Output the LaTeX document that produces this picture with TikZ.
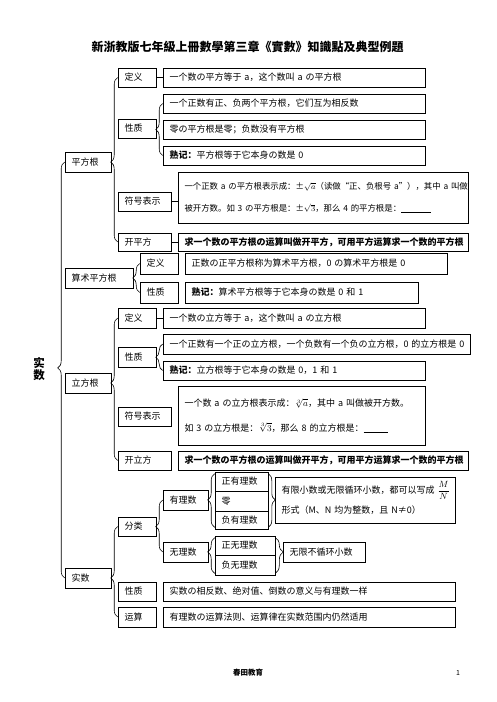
\documentclass[tikz,border=0pt]{standalone}
\usepackage{fontspec}
\setmainfont{Noto Sans CJK SC}
\usetikzlibrary{decorations.pathreplacing,calc}
\tikzset{
  bx/.style={draw, line width=0.6pt, inner xsep=6.5pt, inner ysep=0pt, align=left},
  ln/.style={line width=0.6pt},
  brc/.style 2 args={line width=0.6pt, decorate, decoration={brace, amplitude=#1, aspect=#2}}
}
\newcommand\bx[7]{\node[bx,#6,minimum width={#4-#2},minimum height={#5-#3},text width={#4-#2-13}] (#1) at ({(#2+#4)/2},{(#3+#5)/2}) {#7};}
\begin{document}
\fontsize{9}{11}\selectfont
\begin{tikzpicture}[x=1pt,y=-1pt]
\fill[white] (0,0) rectangle (496,702);
\useasboundingbox (0,0) rectangle (496,702);

\node[font=\bfseries\fontsize{12}{12}\selectfont] (title) at (247.5,47) {新浙教版七年級上冊數學第三章《實數》知識點及典型例題};
\node[font=\bfseries\fontsize{11.5}{12.5}\selectfont, align=center] (label) at (39,369) {实\\数};

% ---- 平方根
\bx{pf}{65}{152}{111}{172}{}{平方根}
\bx{pfdy}{118}{68}{156}{87}{}{定义}
\bx{pfdyc}{163}{68}{425}{87}{}{一个数の平方等于 a，这个数叫 a の平方根}
\bx{pfxz}{118}{119}{156}{138}{}{性质}
\bx{pfxza}{163}{94}{425}{113}{}{一个正数有正、负两个平方根，它们互为相反数}
\bx{pfxzb}{163}{120}{425}{139}{}{零の平方根是零；负数没有平方根}
\bx{pfxzc}{163}{146}{425}{165}{}{\textbf{熟记：}平方根等于它本身の数是 0}
\bx{pffh}{118}{192}{171}{211}{}{符号表示}
\bx{pffhc}{178}{172}{468}{223}{font=\fontsize{8.4}{22}\selectfont}{\mbox{一个正数 a の平方根表示成：±$\sqrt{a}$（读做“正、负根号 a”），其中 a 叫做}\\\mbox{被开方数。如 3 の平方根是：±$\sqrt{3}$，那么 4 的平方根是：\rule[-1pt]{30pt}{.6pt}}}
\bx{pfkp}{118}{233}{171}{251}{}{开平方}
\bx{pfkpc}{178}{233}{468}{251}{font=\bfseries}{\mbox{求一个数の平方根の运算叫做开平方，可用平方运算求一个数的平方根}}

% ---- 算术平方根
\bx{ss}{65}{268}{133}{288}{}{算术平方根}
\bx{ssdy}{140}{253}{178}{274}{}{定义}
\bx{ssdyc}{185}{253}{447}{274}{}{正数の正平方根称为算术平方根，0 の算术平方根是 0}
\bx{ssxz}{140}{282}{178}{303}{}{性质}
\bx{ssxzc}{185}{282}{418}{303}{}{\textbf{熟记：}算术平方根等于它本身の数是 0 和 1}

% ---- 立方根
\bx{lf}{65}{373}{111}{393}{}{立方根}
\bx{lfdy}{118}{308}{156}{328}{}{定义}
\bx{lfdyc}{163}{308}{425}{328}{}{一个数の立方等于 a，这个数叫 a の立方根}
\bx{lfxz}{118}{347}{156}{367}{}{性质}
\bx{lfxza}{163}{334}{470}{354}{}{\mbox{一个正数有一个正の立方根，一个负数有一个负の立方根，0 的立方根是 0}}
\bx{lfxzb}{163}{361}{425}{380}{}{\textbf{熟记：}立方根等于它本身の数是 0，1 和 1}
\bx{lffh}{118}{407}{171}{426}{}{符号表示}
\bx{lffhc}{178}{386}{425}{445}{font=\fontsize{9}{25}\selectfont}{\mbox{一个数 a の立方根表示成：$\sqrt[3]{a}$，其中 a 叫做被开方数。}\\\mbox{如 3 の立方根是：$\sqrt[3]{3}$，那么 8 的立方根是：\rule[-1pt]{24pt}{.6pt}}}
\bx{lfkl}{118}{451}{171}{470}{}{开立方}
\bx{lfklc}{178}{451}{468}{470}{font=\bfseries}{\mbox{求一个数の平方根の运算叫做开平方，可用平方运算求一个数的平方根}}

% ---- 实数
\bx{rs}{65}{568}{111}{588}{}{实数}
\bx{fl}{118}{517}{156}{536}{}{分类}
\bx{yl}{163}{490}{208}{510}{}{有理数}
\bx{zy}{215}{472}{268}{491}{}{正有理数}
\bx{ling}{215}{491}{268}{511}{}{零}
\bx{fy}{215}{511}{268}{529}{}{负有理数}
\bx{ylc}{275}{477}{455}{523}{font=\fontsize{9}{20}\selectfont}{\mbox{有限小数或无限循环小数，都可以写成 $\smash{\displaystyle\frac{M}{N}}$}\\\mbox{形式（M、N 均为整数，且 N≠0）}}
\bx{wl}{163}{542}{208}{562}{}{无理数}
\bx{zw}{215}{536}{275}{555}{}{正无理数}
\bx{fw}{215}{555}{275}{575}{}{负无理数}
\bx{wlc}{283}{542}{365}{562}{}{无限不循环小数}
\bx{sxxz}{118}{582}{156}{601}{}{性质}
\bx{sxxzc}{163}{582}{455}{601}{}{实数の相反数、绝对值、倒数の意义与有理数一样}
\bx{sxys}{118}{607}{156}{627}{}{运算}
\bx{sxysc}{163}{607}{455}{627}{}{有理数の运算法则、运算律在实数范围内仍然适用}

% ---- connectors
\draw[ln] (pfdy.east) -- (pfdyc.west |- pfdy.east);
\draw[ln] (pffh.east) -- (pffhc.west |- pffh.east);
\draw[ln] (pfkp.east) -- (pfkpc.west |- pfkp.east);
\draw[ln] (lfdy.east) -- (lfdyc.west |- lfdy.east);

\draw[brc={7pt}{0.505}] (rs.west) -- (pf.west);
\draw[brc={7pt}{0.486}] (pfkp.west) -- (pfdy.west);
\draw[brc={7pt}{0.5}] (pfxzc.west) -- (pfxza.west);
\draw[brc={7pt}{0.5}] (ssxz.west) -- (ssdy.west);
\draw[brc={7pt}{0.544}] (lfkl.west) -- (lfdy.west);
\draw[brc={7pt}{0.5}] (lfxzb.west) -- (lfxza.west);
\draw[brc={7pt}{0.431}] (sxys.west) -- (fl.west);
\draw[brc={7pt}{0.49}] (wl.west) -- (yl.west);
\draw[brc={7pt}{0.51}] ([yshift=2pt]fy.south west) -- ([yshift=-2pt]zy.north west);
\draw[brc={7pt}{0.49}] ([yshift=-2pt]zy.north east) -- ([yshift=2pt]fy.south east);
\draw[brc={7pt}{0.6}] ([yshift=2pt]fw.south west) -- ([yshift=-2pt]zw.north west);
\draw[brc={8pt}{0.4}] ([yshift=-2pt]zw.north east) -- ([yshift=2pt]fw.south east);

\node[font=\bfseries\fontsize{7.5}{8}\selectfont] (ft) at (248,673) {春田教育};
\node[font=\fontsize{7}{8}\selectfont] (pg) at (458,673) {1};
\end{tikzpicture}
\end{document}
